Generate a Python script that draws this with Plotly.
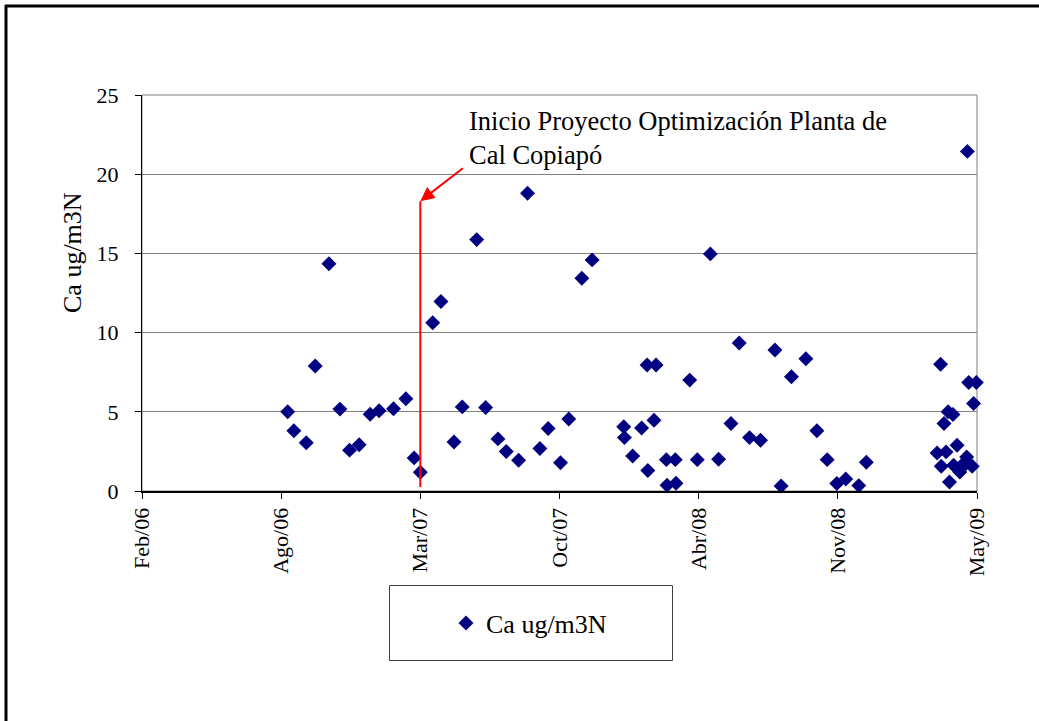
import pandas as pd
import plotly.graph_objects as go

# Sampling dates and calcium concentration (ug/m3N)
dates = [
    "2006-09-01", "2006-09-10", "2006-09-28", "2006-10-11", "2006-10-31",
    "2006-11-16", "2006-11-30", "2006-12-14", "2006-12-30", "2007-01-12",
    "2007-02-02", "2007-02-20", "2007-03-04", "2007-03-13", "2007-03-31",
    "2007-04-12", "2007-05-01", "2007-05-13", "2007-06-03", "2007-06-16",
    "2007-07-04", "2007-07-16", "2007-08-03", "2007-08-16", "2007-09-03",
    "2007-09-15", "2007-10-03", "2007-10-15", "2007-11-03", "2007-11-18",
    "2008-01-03", "2008-01-04", "2008-01-16", "2008-01-29", "2008-02-06",
    "2008-02-07", "2008-02-16", "2008-02-19", "2008-03-05", "2008-03-06",
    "2008-03-18", "2008-03-19", "2008-04-08", "2008-04-19", "2008-05-08",
    "2008-05-20", "2008-06-07", "2008-06-19", "2008-07-04", "2008-07-20",
    "2008-08-10", "2008-08-19", "2008-09-03", "2008-09-24", "2008-10-10",
    "2008-10-25", "2008-11-08", "2008-11-21", "2008-12-10", "2008-12-21",
    "2009-04-03", "2009-04-08", "2009-04-09", "2009-04-13", "2009-04-16",
    "2009-04-19", "2009-04-21", "2009-04-26", "2009-04-27", "2009-05-02",
    "2009-05-06", "2009-05-09", "2009-05-15", "2009-05-16", "2009-05-17",
    "2009-05-19", "2009-05-24", "2009-05-26", "2009-05-30",
]
ca_values = [
    5.0, 3.8, 3.04, 7.89, 14.35,
    5.17, 2.58, 2.92, 4.84, 5.06,
    5.19, 5.82, 2.09, 1.19, 10.62,
    11.97, 3.1, 5.31, 15.87, 5.27,
    3.29, 2.49, 1.94, 18.8, 2.68,
    3.94, 1.79, 4.55, 13.43, 14.59,
    4.05, 3.37, 2.21, 3.98, 7.95,
    1.29, 4.47, 7.95, 1.98, 0.36,
    1.98, 0.49, 7.0, 1.98, 14.97,
    2.0, 4.26, 9.34, 3.37, 3.2,
    8.9, 0.32, 7.21, 8.35, 3.8,
    1.98, 0.47, 0.76, 0.34, 1.81,
    2.4, 8.0, 1.56, 4.26, 2.47,
    5.0, 0.57, 4.83, 1.63, 2.89,
    1.2, 1.63, 1.73, 2.15, 21.44,
    6.85, 1.56, 5.53, 6.85,
]

# Axis window and tick labels
x_start, x_end = "2006-02-01", "2009-05-31"
tick_labels = ["Feb/06", "Ago/06", "Mar/07", "Oct/07", "Abr/08", "Nov/08", "May/09"]
y_max, y_step = 25, 5

# Start of the optimisation project
project_start = "2007-03-13"
marker_top = 18.3
project_label = "Inicio Proyecto Optimización Planta de<br>Cal Copiapó"

series_name = "Ca ug/m3N"

W, H = 1039, 721
L, R, T, B = 142, 62, 95, 230
PW, PH = W - L - R, H - T - B


def px_x(p):
    return (p - L) / PW


def px_y(p):
    return (H - B - p) / PH


FONT = "Liberation Serif, Times New Roman, serif"
NAVY = "#000080"

tickvals = pd.date_range(x_start, x_end, periods=len(tick_labels))

fig = go.Figure()
fig.add_trace(go.Scatter(
    x=pd.to_datetime(dates), y=ca_values, mode="markers", name=series_name,
    marker=dict(symbol="diamond", size=11.5, color=NAVY, line=dict(width=0)),
    cliponaxis=False,
))

shapes = [
    # plot area frame
    dict(type="rect", xref="paper", yref="paper", x0=0, x1=1, y0=0, y1=1,
         line=dict(color="#808080", width=1), layer="below"),
    # project start marker
    dict(type="line", xref="x", yref="y", x0=project_start, x1=project_start,
         y0=0.25, y1=marker_top, line=dict(color="#ff0000", width=2)),
    # legend box
    dict(type="rect", xref="paper", yref="paper",
         x0=px_x(389.5), x1=px_x(672.5), y0=px_y(660.5), y1=px_y(585.5),
         line=dict(color="#404040", width=1)),
    # chart frame (left and top edges)
    dict(type="line", xref="paper", yref="paper",
         x0=px_x(6), x1=px_x(6), y0=px_y(5), y1=px_y(730),
         line=dict(color="black", width=3)),
    dict(type="line", xref="paper", yref="paper",
         x0=px_x(5), x1=px_x(1045), y0=px_y(6), y1=px_y(6),
         line=dict(color="black", width=3)),
]

annotations = [
    dict(xref="paper", yref="paper", x=px_x(467), y=px_y(104),
         xanchor="left", yanchor="top", align="left", showarrow=False,
         text=project_label, font=dict(family=FONT, size=26.5, color="black")),
    dict(xref="x", yref="y", x=project_start, y=marker_top, text="",
         showarrow=True, axref="pixel", ayref="pixel", ax=44, ay=-34,
         arrowcolor="#ff0000", arrowwidth=2, arrowhead=2, arrowsize=1.4,
         standoff=0),
    dict(xref="paper", yref="paper", x=px_x(72), y=px_y(253),
         xanchor="center", yanchor="middle", textangle=-90, showarrow=False,
         text=series_name, font=dict(family=FONT, size=26, color="black")),
]

fig.update_layout(
    width=W, height=H,
    margin=dict(l=L, r=R, t=T, b=B, pad=0),
    paper_bgcolor="white", plot_bgcolor="white",
    font=dict(family=FONT, color="black"),
    showlegend=True,
    legend=dict(x=px_x(446), y=px_y(623), xanchor="left", yanchor="middle",
                bgcolor="rgba(0,0,0,0)", borderwidth=0,
                font=dict(family=FONT, size=26, color="black")),
    shapes=shapes,
    annotations=annotations,
    xaxis=dict(
        type="date", range=[x_start, x_end],
        tickmode="array", tickvals=tickvals, ticktext=tick_labels,
        tickangle=-90, ticks="outside", ticklen=6, tickcolor="black",
        tickfont=dict(family=FONT, size=22, color="black"),
        showgrid=False, zeroline=False,
        showline=True, linecolor="black", linewidth=2,
    ),
    yaxis=dict(
        range=[0, y_max], tick0=0, dtick=y_step,
        ticks="outside", ticklen=6, tickcolor="black",
        ticklabelstandoff=12,
        tickfont=dict(family=FONT, size=22, color="black"),
        showgrid=True, gridcolor="#808080", gridwidth=1,
        zeroline=False, showline=True, linecolor="black", linewidth=1,
    ),
)

fig.write_html("out.html")
